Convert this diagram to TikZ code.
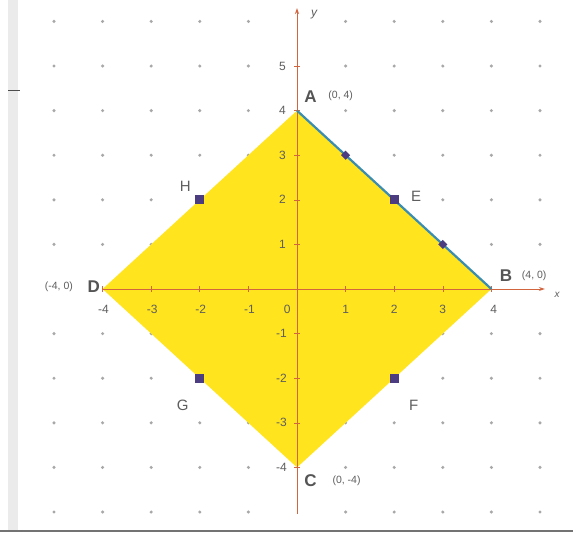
\documentclass[tikz,border=0pt]{standalone}
\usepackage{fontspec}
\setmainfont{Liberation Sans}
\usetikzlibrary{arrows.meta}
\definecolor{dotgray}{HTML}{A8A8A8}
\definecolor{txtgray}{HTML}{5E5E5E}
\definecolor{axisred}{HTML}{D2643E}
\definecolor{fillyel}{HTML}{FFE41E}
\definecolor{edgeblue}{HTML}{3A8CB0}
\definecolor{mark}{HTML}{4B3D80}
\tikzset{
  gdot/.style={circle,fill=dotgray,inner sep=0pt,minimum size=3.4pt},
  ticklbl/.style={text=txtgray,font=\fontsize{12}{12}\selectfont,inner sep=0pt},
  vlbl/.style={text=txtgray!90!black,font=\fontsize{17}{17}\selectfont\bfseries,inner sep=0pt},
  coordlbl/.style={text=txtgray,font=\fontsize{10.5}{11}\selectfont,inner sep=0pt},
  ptlbl/.style={text=txtgray,font=\fontsize{15}{15}\selectfont,inner sep=0pt},
  sqmark/.style={rectangle,fill=mark,inner sep=0pt,minimum size=9pt},
  smmark/.style={rectangle,fill=mark,inner sep=0pt,minimum size=6.5pt,rotate=45},
  axisline/.style={draw=axisred,line width=0.9pt},
}
\begin{document}
\begin{tikzpicture}[x=48.6pt,y=44.6pt]
\useasboundingbox[fill=white] (-6.111,-5.493) rectangle (5.679,6.480);
% page edges
\fill[black!8] (-5.94,-5.43) rectangle (-5.75,6.48);
\draw[black!70,line width=1.2pt] (-5.94,4.45) -- (-5.70,4.45);
\draw[black!55,line width=1.5pt] (-6.111,-5.43) -- (5.679,-5.43);
% grid dots
\foreach \x in {-5,...,5}{
  \foreach \y in {-5,...,6}{
    \ifnum\x=0\relax\else\ifnum\y=0\relax\else
      \node[gdot] (d\x\y) at (\x,\y) {};
    \fi\fi
  }
}
% square vertices
\coordinate (A) at (0,4);
\coordinate (B) at (4,0);
\coordinate (C) at (0,-4);
\coordinate (D) at (-4,0);
\fill[fillyel] (A) -- (B) -- (C) -- (D) -- cycle;
% axes
\coordinate (xend) at (5.1,0);
\coordinate (ybot) at (0,-5.05);
\coordinate (yend) at (0,6.3);
\draw[axisline,-{Stealth[length=6pt,width=4pt]}] (D) -- (xend);
\draw[axisline,-{Stealth[length=6pt,width=4pt]}] (ybot) -- (yend);
\foreach \i in {-4,...,4}{\draw[axisred,line width=0.6pt] (\i,-0.06) -- (\i,0.06);}
\foreach \j in {-4,...,5}{\draw[axisred,line width=0.6pt] (-0.06,\j) -- (0.06,\j);}
\node[text=txtgray,font=\fontsize{12}{12}\selectfont\itshape] (ylab) at (0.35,6.15) {y};
\node[text=txtgray,font=\fontsize{10}{10}\selectfont\itshape] (xlab) at (5.35,-0.12) {x};
% tick labels
\foreach \i/\n in {-4/4,-3/3,-2/2,-1/1}{\node[ticklbl] (txm\n) at (\i+0.02,-0.45) {-\n};}
\node[ticklbl] (tx0) at (-0.2,-0.45) {0};
\foreach \i in {1,2,3}{\node[ticklbl] (tx\i) at (\i,-0.45) {\i};}
\node[ticklbl] (tx4) at (4.05,-0.45) {4};
\foreach \j in {1,2,3,4,5}{\node[ticklbl] (ty\j) at (-0.3,\j) {\j};}
\foreach \j in {1,2,3,4}{\node[ticklbl] (tym\j) at (-0.32,-\j) {-\j};}
% blue edge AB
\draw[edgeblue,line width=2.2pt] (A) -- (B);
% marked points
\node[sqmark] (H) at (-2,2) {};
\node[sqmark] (E) at (2,2) {};
\node[sqmark] (G) at (-2,-2) {};
\node[sqmark] (F) at (2,-2) {};
\node[smmark] (P13) at (1,3) {};
\node[smmark] (P31) at (3,1) {};
\node[ptlbl] (Hl) at (-2.3,2.3) {H};
\node[ptlbl] (El) at (2.45,2.08) {E};
\node[ptlbl] (Gl) at (-2.35,-2.6) {G};
\node[ptlbl] (Fl) at (2.4,-2.6) {F};
% vertex labels
\node[vlbl] (Al) at (0.28,4.32) {A};
\node[coordlbl] (Ac) at (0.9,4.33) {(0, 4)};
\node[vlbl] (Bl) at (4.3,0.3) {B};
\node[coordlbl] (Bc) at (4.88,0.3) {(4, 0)};
\node[vlbl] (Dl) at (-4.18,0.05) {D};
\node[coordlbl] (Dc) at (-4.9,0.05) {(-4, 0)};
\node[vlbl] (Cl) at (0.28,-4.3) {C};
\node[coordlbl] (Cc) at (1.02,-4.3) {(0, -4)};
\end{tikzpicture}
\end{document}
